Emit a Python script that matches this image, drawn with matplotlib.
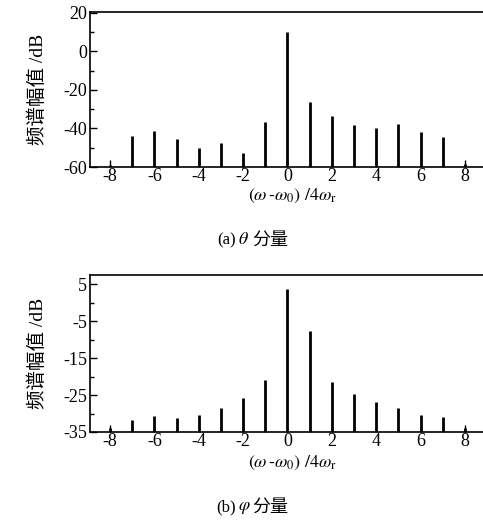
import numpy as np
import matplotlib
matplotlib.use('Agg')
import matplotlib.pyplot as plt
from matplotlib.ticker import MultipleLocator

plt.rcParams['font.family'] = ['Liberation Serif', 'Noto Sans CJK SC', 'DejaVu Sans']
plt.rcParams['mathtext.fontset'] = 'stix'
plt.rcParams['axes.unicode_minus'] = False

harm = [-8, -7, -6, -5, -4, -3, -2, -1, 0, 1, 2, 3, 4, 5, 6, 7, 8]
theta_db = [-58.8, -43.8, -41.4, -45.7, -50.3, -47.7, -52.8, -36.8, 9.9,
            -26.1, -33.7, -38.0, -39.9, -37.8, -41.7, -44.3, -58.5]
phi_db = [-34.0, -31.8, -30.7, -31.2, -30.3, -28.6, -25.7, -21.0, 3.8,
          -7.7, -21.5, -24.8, -26.9, -28.5, -30.3, -30.9, -34.0]
theta_yticks = [20, 0, -20, -40, -60]
phi_yticks = [5, -5, -15, -25, -35]

W, H = 483, 524
fig = plt.figure(figsize=(W / 100, H / 100), dpi=100)

def px(x, y):
    return x / W, 1 - y / H

def panel(rect, vals, ylim, yticks, yminor, tag, sym, cap_y, xl_y):
    ax = fig.add_axes(rect)
    ax.vlines(harm, ylim[0], vals, colors='k', linewidth=2)
    ax.set_xlim(-8.9, 8.95)
    ax.set_ylim(*ylim)
    ax.set_xticks([-8, -6, -4, -2, 0, 2, 4, 6, 8])
    ax.xaxis.set_minor_locator(MultipleLocator(1))
    ax.set_yticks(yticks)
    ax.yaxis.set_minor_locator(MultipleLocator(yminor))
    ax.tick_params(which='both', direction='in', labelsize=13, width=1, pad=2)
    ax.tick_params(axis='x', pad=1)
    ax.tick_params(which='major', length=5)
    ax.tick_params(which='minor', length=3)
    for s in ax.spines.values():
        s.set_linewidth(1.2)
    ax.spines['right'].set_visible(False)
    ax.set_ylabel('频谱幅值 /dB', fontsize=14, labelpad=12)
    fig.text(*px(292, xl_y), r'$(\omega\,\text{-}\omega_0)\ /4\omega_\mathrm{r}$',
             ha='center', va='center', fontsize=13)
    fig.text(*px(236, cap_y), tag, ha='right', va='center', fontsize=12)
    fig.text(*px(238, cap_y), sym, ha='left', va='center', fontsize=13)
    fig.text(*px(252, cap_y), '分量', ha='left', va='center', fontsize=13)
    return ax

panel([90 / W, 1 - 167 / H, 0.82, 155 / H], theta_db, (-60, 20.5), theta_yticks, 10,
      '(a)', r'$\theta$', 240, 196)
panel([90 / W, 1 - 432 / H, 0.82, 157 / H], phi_db, (-35, 7.5), phi_yticks, 5,
      '(b)', r'$\varphi$', 507, 463)

fig.savefig('out.png', dpi=100)
